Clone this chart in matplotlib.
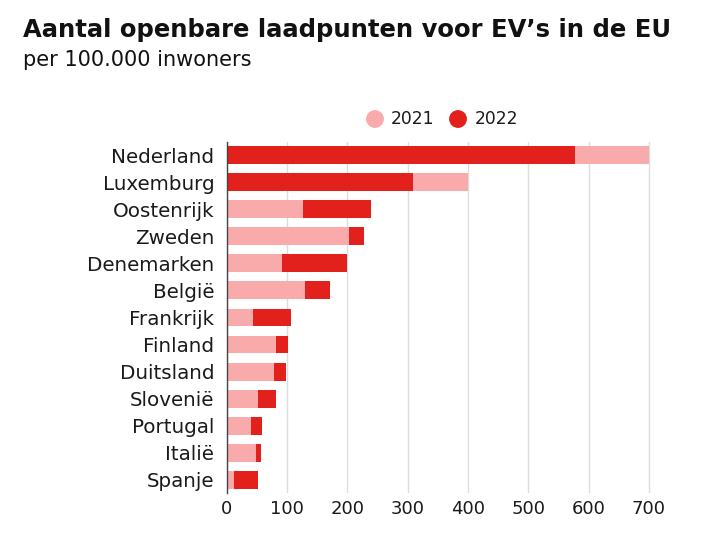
import matplotlib.pyplot as plt
import numpy as np

# data
landen = ["Nederland", "Luxemburg", "Oostenrijk", "Zweden", "Denemarken", "België",
          "Frankrijk", "Finland", "Duitsland", "Slovenië", "Portugal", "Italië", "Spanje"]
waarden_2021 = [700, 400, 127, 202, 91, 129, 44, 81, 78, 52, 40, 49, 12]
waarden_2022 = [577, 308, 240, 228, 200, 171, 107, 102, 98, 81, 59, 56, 52]
xticks = [0, 100, 200, 300, 400, 500, 600, 700]

roze = "#f9aaaa"
rood = "#e3211c"
tekstkleur = "#1a1a1a"

plt.rcParams["font.family"] = ["DejaVu Sans"]

fig = plt.figure(figsize=(7.02, 5.34), dpi=100)
ax = fig.add_axes([0.323, 0.076, 0.61, 0.659])

y = np.arange(len(landen))
for i in range(len(landen)):
    # de kleinste balk komt bovenop
    z21 = 3 if waarden_2021[i] < waarden_2022[i] else 2
    z22 = 5 - z21
    ax.barh(y[i], waarden_2021[i], height=0.66, color=roze, zorder=z21)
    ax.barh(y[i], waarden_2022[i], height=0.66, color=rood, zorder=z22)

ax.set_ylim(len(landen) - 0.5, -0.5)
ax.set_xlim(0, 710)
ax.set_yticks(y)
ax.set_yticklabels(landen, fontsize=14.3, color=tekstkleur)
ax.set_xticks(xticks)
ax.set_xticklabels([str(t) for t in xticks], fontsize=13, color=tekstkleur)
ax.tick_params(axis="x", length=0, pad=5)
ax.tick_params(axis="y", length=0, pad=9)

ax.grid(axis="x", color="#dddddd", linewidth=1, zorder=0)
ax.set_axisbelow(True)
for s in ["top", "right", "bottom"]:
    ax.spines[s].set_visible(False)
ax.spines["left"].set_color("#444444")
ax.spines["left"].set_linewidth(1)
ax.spines["left"].set_zorder(6)

fig.text(0.033, 0.931, "Aantal openbare laadpunten voor EV\u2019s in de EU",
         fontsize=17.5, fontweight="bold", color="#111111", va="baseline")
fig.text(0.033, 0.877, "per 100.000 inwoners", fontsize=15, color="#111111", va="baseline")

# legenda in pixelcoördinaten
ax_leg = fig.add_axes([0, 0, 1, 1], facecolor="none")
ax_leg.set_xlim(0, 702)
ax_leg.set_ylim(534, 0)
ax_leg.axis("off")
ax_leg.scatter([375], [119], s=165, color=roze, edgecolors="none")
ax_leg.scatter([458], [119], s=165, color=rood, edgecolors="none")
ax_leg.text(391, 119, "2021", fontsize=12.3, va="center", color=tekstkleur)
ax_leg.text(475, 119, "2022", fontsize=12.3, va="center", color=tekstkleur)

fig.savefig("out.png", dpi=100)
